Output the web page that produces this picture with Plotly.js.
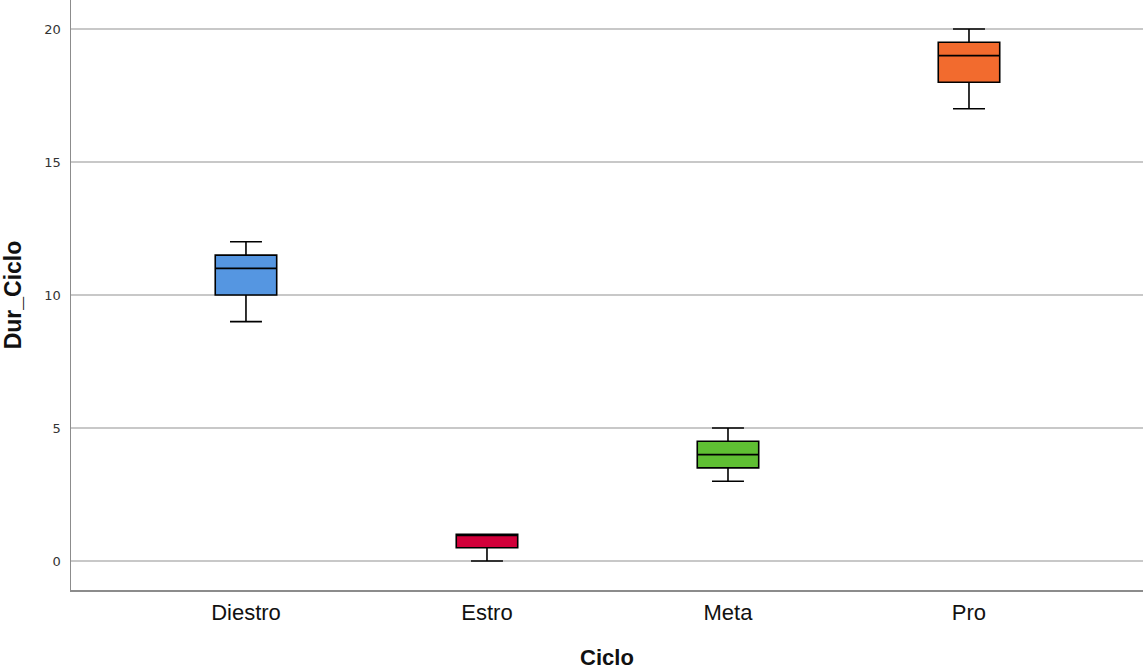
<!DOCTYPE html>
<html>
<head>
<meta charset="utf-8">
<script src="https://cdn.plot.ly/plotly-3.0.1.min.js"></script>
<style>
  html, body { margin: 0; padding: 0; background: #fff; }
  #chart { width: 1143px; height: 670px; }
</style>
</head>
<body>
<div id="chart"></div>
<script>
// Cycle phases and their duration summaries
const categories = ["Diestro", "Estro", "Meta", "Pro"];
const lowerWhisker = [9, 0, 3, 17];
const q1Values = [10, 0.5, 3.5, 18];
const medianValues = [11, 1, 4, 19];
const q3Values = [11.5, 1, 4.5, 19.5];
const upperWhisker = [12, 1, 5, 20];
const boxColors = ["#5596e1", "#d2003a", "#5fbf33", "#f26b2e"];
const yTicks = [0, 5, 10, 15, 20];

const traces = categories.map((cat, i) => ({
  type: "box",
  x: [cat],
  q1: [q1Values[i]],
  median: [medianValues[i]],
  q3: [q3Values[i]],
  lowerfence: [lowerWhisker[i]],
  upperfence: [upperWhisker[i]],
  fillcolor: boxColors[i],
  line: { color: "#000000", width: 1.6 },
  width: 0.255,
  whiskerwidth: 0.52,
  boxpoints: false,
  hoverinfo: "skip",
  showlegend: false
}));

const layout = {
  width: 1143,
  height: 670,
  margin: { l: 71, r: 0, t: 0, b: 80 },
  paper_bgcolor: "#ffffff",
  plot_bgcolor: "#ffffff",
  showlegend: false,
  xaxis: {
    type: "category",
    categoryorder: "array",
    categoryarray: categories,
    range: [-0.726, 3.722],
    showgrid: false,
    zeroline: false,
    showline: true,
    linecolor: "#8c8c8c",
    linewidth: 1.5,
    ticks: "",
    ticklabelstandoff: 2,
    tickfont: { family: "Liberation Sans Narrow, Liberation Sans, Arial, sans-serif", size: 22, color: "#111111" },
    title: {
      text: "Ciclo",
      font: { family: "Liberation Sans Narrow, Liberation Sans, Arial, sans-serif", size: 22, color: "#111111", weight: "bold" },
      standoff: 28
    }
  },
  yaxis: {
    range: [-1.09, 21.09],
    tickvals: yTicks,
    ticktext: yTicks.map(String),
    showgrid: true,
    gridcolor: "#c8c8c8",
    gridwidth: 1.2,
    zeroline: false,
    showline: true,
    linecolor: "#8c8c8c",
    linewidth: 1.5,
    ticks: "",
    ticklabelstandoff: 6,
    tickfont: { family: "DejaVu Sans, sans-serif", size: 13, color: "#333333" },
    title: {
      text: "Dur_Ciclo",
      font: { family: "Liberation Sans Narrow, Liberation Sans, Arial, sans-serif", size: 23, color: "#111111", weight: "bold" },
      standoff: 17
    }
  }
};

Plotly.newPlot("chart", traces, layout, { displayModeBar: false, staticPlot: true });
</script>
</body>
</html>
